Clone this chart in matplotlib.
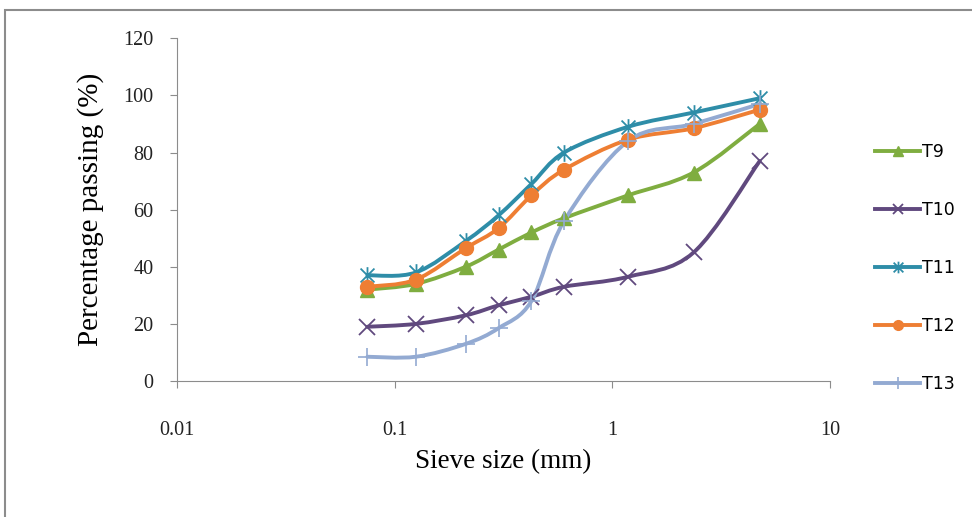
import numpy as np
import matplotlib.pyplot as plt
from matplotlib.path import Path
from matplotlib.patches import PathPatch, Rectangle
from matplotlib.lines import Line2D

# sieve openings (mm) and percentage passing for each sample
sieve = [0.075, 0.125, 0.212, 0.3, 0.425, 0.6, 1.18, 2.36, 4.75]
t9 = [32, 34, 40, 46, 52, 57, 65, 73, 90]
t10 = [19, 20, 23, 26.5, 29.5, 33, 36.5, 45, 77]
t11 = [37, 38, 49, 58, 69, 80, 89, 94, 99]
t12 = [33, 35.5, 46.5, 53.5, 65, 74, 84.5, 88.5, 95]
t13 = [8.5, 8.5, 13, 18.5, 28, 56, 84, 90, 97]

names = ['T9', 'T10', 'T11', 'T12', 'T13']
series = [t9, t10, t11, t12, t13]
colors = ['#7FAD40', '#60497E', '#2E8DA8', '#EE7E33', '#93AAD2']

# Excel-style "star": an x with a vertical bar through it
star = Path([(-1, -1), (1, 1), (-1, 1), (1, -1), (0, -1.2), (0, 1.2)],
            [Path.MOVETO, Path.LINETO, Path.MOVETO, Path.LINETO, Path.MOVETO, Path.LINETO])
markers = [dict(marker='^', ms=10),
           dict(marker='x', ms=11, mew=1.3),
           dict(marker=star, ms=12, mew=1.3),
           dict(marker='o', ms=10),
           dict(marker='+', ms=13, mew=1.2)]


def smooth_path(x, y):
    # cubic Bezier through the points, built in log-x space like a smoothed Excel line
    lx = np.log10(x)
    y = np.asarray(y, float)
    n = len(lx)
    verts = [(x[0], y[0])]
    codes = [Path.MOVETO]
    for i in range(n - 1):
        p0 = (lx[max(i - 1, 0)], y[max(i - 1, 0)])
        p1 = (lx[i], y[i])
        p2 = (lx[i + 1], y[i + 1])
        p3 = (lx[min(i + 2, n - 1)], y[min(i + 2, n - 1)])
        c1 = (p1[0] + (p2[0] - p0[0]) / 6, p1[1] + (p2[1] - p0[1]) / 6)
        c2 = (p2[0] - (p3[0] - p1[0]) / 6, p2[1] - (p3[1] - p1[1]) / 6)
        for c in (c1, c2, p2):
            verts.append((10 ** c[0], c[1]))
            codes.append(Path.CURVE4)
    return Path(verts, codes)


fig = plt.figure(figsize=(9.72, 5.17), dpi=100)
fig.patches.append(Rectangle((5 / 972, -0.1), 1.1, 1 - 10 / 517 + 0.1, transform=fig.transFigure,
                             fill=False, edgecolor='#8c8c8c', linewidth=1.5))
ax = fig.add_axes([0.182, 0.263, 0.672, 0.663])

for name, vals, col, mk in zip(names, series, colors, markers):
    ax.add_patch(PathPatch(smooth_path(sieve, vals), fill=False, edgecolor=col,
                           linewidth=2.8, capstyle='round', joinstyle='round'))
    ax.plot(sieve, vals, linestyle='none', color=col, mfc=col, **mk)

ax.set_xscale('log')
ax.set_xlim(0.01, 10)
ax.set_ylim(0, 120)
ax.set_yticks(range(0, 121, 20))
ax.set_xticks([0.01, 0.1, 1, 10])
ax.set_xticklabels(['0.01', '0.1', '1', '10'])
ax.minorticks_off()

for s in ['top', 'right']:
    ax.spines[s].set_visible(False)
for s in ['left', 'bottom']:
    ax.spines[s].set_color('#8c8c8c')
ax.tick_params(axis='both', colors='#8c8c8c', labelcolor='#222222', length=5,
               labelsize=14.5)
ax.tick_params(axis='x', pad=24)
ax.tick_params(axis='y', pad=12)
for lbl in ax.get_xticklabels() + ax.get_yticklabels():
    lbl.set_fontfamily('Liberation Serif')

ax.set_xlabel('Sieve size (mm)', fontsize=19.5, fontfamily='Liberation Serif', labelpad=6)
ax.set_ylabel('Percentage passing (%)', fontsize=21, fontfamily='Liberation Serif', labelpad=14)

# legend keys use smaller markers than the plotted points
handles = []
for c, mk in zip(colors, markers):
    small = dict(mk)
    small['ms'] = mk['ms'] * 0.7
    handles.append(Line2D([], [], color=c, linewidth=2.8, mfc=c, **small))
fig.legend(handles, names, loc='center left', bbox_to_anchor=(0.893, 0.482),
           frameon=False, fontsize=12.5, handlelength=2.6, handletextpad=0.1,
           labelspacing=2.3, borderaxespad=0)

fig.savefig('out.png', dpi=100)
